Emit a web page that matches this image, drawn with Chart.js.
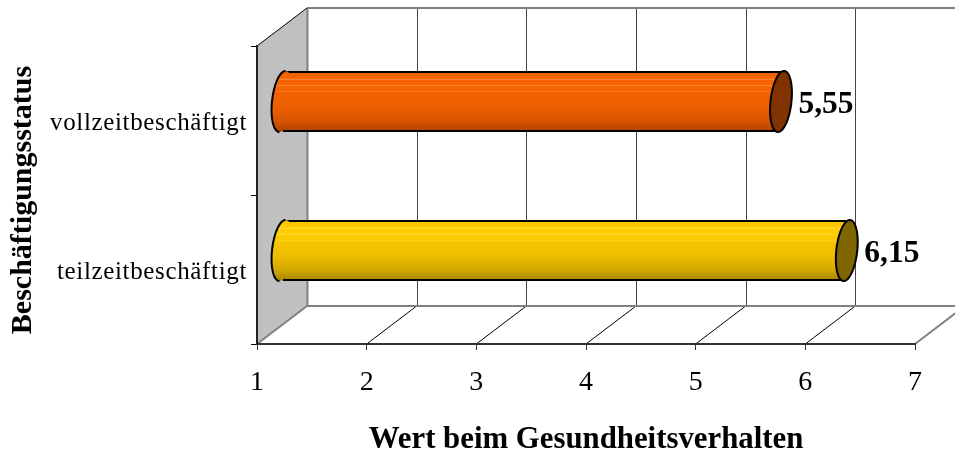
<!DOCTYPE html>
<html>
<head>
<meta charset="utf-8">
<script src="https://cdn.jsdelivr.net/npm/chart.js@4"></script>
<style>
html,body{margin:0;padding:0;background:#fff;overflow:hidden}
#wrap{width:955px;height:452px;position:relative}
</style>
</head>
<body>
<div id="wrap"><canvas id="c" width="955" height="452"></canvas></div>
<script>
// Employment status against health-behaviour score, drawn as 3D-style cylinders.
const categories = ['vollzeitbeschäftigt', 'teilzeitbeschäftigt'];
const scores = [5.55, 6.15];
const xTicks = [1, 2, 3, 4, 5, 6, 7];
const yTitle = 'Beschäftigungsstatus';
const xTitle = 'Wert beim Gesundheitsverhalten';

const bodyStops = [
  [[0, '#ea5e00'], [0.12, '#f56400'], [0.135, '#ff8c3c'], [0.15, '#f56400'], [0.225, '#f66400'], [0.24, '#ff8636'], [0.255, '#f56400'], [0.325, '#f56400'], [0.34, '#fa7a20'], [0.355, '#f26200'], [0.6, '#ec5e00'], [0.82, '#d85400'], [1, '#ac4200']],
  [[0, '#f5c200'], [0.12, '#ffcc00'], [0.135, '#ffdc50'], [0.15, '#ffcc00'], [0.225, '#ffcc00'], [0.24, '#ffd840'], [0.255, '#fdca00'], [0.325, '#fac800'], [0.34, '#fdd020'], [0.355, '#f8c600'], [0.6, '#ecbc00'], [0.82, '#d2a800'], [1, '#a68400']]
];
const capColors = ['#803300', '#806600'];

// Depth of the 3D box: the back wall sits this far right and up from the axes.
const DEPTH_X = 50, DEPTH_Y = 38;
const BAR_FRACTION = 0.41;
const SERIF = '"Liberation Serif", "Times New Roman", serif';

function gradientFor(chart, index) {
  const y = chart.scales.y;
  const half = y.height / categories.length * BAR_FRACTION / 2;
  const mid = y.getPixelForValue(index);
  if (!Number.isFinite(half) || !Number.isFinite(mid)) return capColors[index];
  const g = chart.ctx.createLinearGradient(0, mid - half, 0, mid + half);
  bodyStops[index].forEach(s => g.addColorStop(s[0], s[1]));
  return g;
}

// Cap outline: a sheared oval whose top leans towards the value end.
function capPath(ctx, cx, cy, h, start, end) {
  const steps = 48, a = h * 0.172, b = h * 0.5, shear = 0.1;
  ctx.beginPath();
  for (let n = 0; n <= steps; n++) {
    const t = start + (end - start) * n / steps;
    const px = a * Math.cos(t);
    const py = b * Math.sin(t);
    ctx.lineTo(cx + px - shear * py, cy + py);
  }
}

const box3d = {
  id: 'box3d',
  beforeDatasetsDraw(chart) {
    const { ctx, scales: { x, y } } = chart;
    const l = x.left, r = x.right, t = y.top, b = y.bottom;
    ctx.save();
    // Left wall
    ctx.fillStyle = '#c0c0c0';
    ctx.beginPath();
    ctx.moveTo(l, t); ctx.lineTo(l + DEPTH_X, t - DEPTH_Y);
    ctx.lineTo(l + DEPTH_X, b - DEPTH_Y); ctx.lineTo(l, b);
    ctx.closePath(); ctx.fill();
    // Back-wall gridlines and floor diagonals
    xTicks.forEach(v => {
      const px = x.getPixelForValue(v);
      const edge = v === xTicks[0] || v === xTicks[xTicks.length - 1];
      ctx.lineWidth = edge ? 2 : 1;
      ctx.strokeStyle = edge ? '#808080' : '#000';
      ctx.beginPath();
      ctx.moveTo(px, b); ctx.lineTo(px + DEPTH_X, b - DEPTH_Y);
      ctx.stroke();
      if (v !== xTicks[xTicks.length - 1]) {
        ctx.strokeStyle = v === xTicks[0] ? '#808080' : '#444';
        ctx.lineWidth = v === xTicks[0] ? 2 : 1;
        ctx.beginPath();
        ctx.moveTo(Math.round(px + DEPTH_X) + 0.5, t - DEPTH_Y);
        ctx.lineTo(Math.round(px + DEPTH_X) + 0.5, b - DEPTH_Y);
        ctx.stroke();
      }
    });
    // Top and floor edges of the back wall
    ctx.strokeStyle = '#808080';
    ctx.lineWidth = 2;
    [t - DEPTH_Y, b - DEPTH_Y].forEach(py => {
      ctx.beginPath();
      ctx.moveTo(l + DEPTH_X, py); ctx.lineTo(r + DEPTH_X, py);
      ctx.stroke();
    });
    // Top edge of the left wall
    ctx.strokeStyle = '#000';
    ctx.lineWidth = 1;
    ctx.beginPath();
    ctx.moveTo(l, t); ctx.lineTo(l + DEPTH_X, t - DEPTH_Y);
    ctx.stroke();
    ctx.restore();
  },
  beforeDatasetDraw(chart) {
    chart.ctx.save();
    chart.ctx.translate(DEPTH_X / 2, -DEPTH_Y / 2);
  },
  afterDatasetDraw(chart, args) {
    const ctx = chart.ctx;
    args.meta.data.forEach((el, i) => {
      const h = el.height;
      // Rounded start of the cylinder
      ctx.fillStyle = gradientFor(chart, i);
      capPath(ctx, el.base, el.y, h, 0, Math.PI * 2);
      ctx.fill();
      ctx.strokeStyle = '#000';
      ctx.lineWidth = 2;
      capPath(ctx, el.base, el.y, h, Math.PI / 2, Math.PI * 1.5);
      ctx.stroke();
      // Exposed end of the cylinder
      ctx.fillStyle = capColors[i];
      capPath(ctx, el.x, el.y, h, 0, Math.PI * 2);
      ctx.closePath();
      ctx.fill();
      ctx.stroke();
      // Value label
      ctx.fillStyle = '#000';
      ctx.font = 'bold 31.5px ' + SERIF;
      ctx.textAlign = 'left';
      ctx.textBaseline = 'middle';
      ctx.fillText(scores[i].toFixed(2).replace('.', ','), el.x + 17.5, el.y + 3.5);
    });
    ctx.restore();
  },
  // Category labels and the vertical title sit a few pixels below the scale's own centre lines.
  afterDraw(chart) {
    const { ctx, scales: { y } } = chart;
    ctx.save();
    ctx.fillStyle = '#000';
    ctx.textBaseline = 'middle';
    ctx.textAlign = 'right';
    ctx.font = '25px ' + SERIF;
    ctx.letterSpacing = '0.65px';
    categories.forEach((label, i) => {
      ctx.fillText(label, y.right - 10, y.getPixelForValue(i) + 3);
    });
    ctx.letterSpacing = '0px';
    ctx.translate(23, (y.top + y.bottom) / 2 + 5);
    ctx.rotate(-Math.PI / 2);
    ctx.textAlign = 'center';
    ctx.font = 'bold 30px ' + SERIF;
    ctx.fillText(yTitle, 0, 0);
    ctx.restore();
  }
};

new Chart(document.getElementById('c'), {
  type: 'bar',
  plugins: [box3d],
  data: {
    labels: categories,
    datasets: [{
      data: scores,
      base: xTicks[0],
      clip: false,
      backgroundColor: c => gradientFor(c.chart, c.dataIndex),
      borderColor: '#000',
      borderWidth: { top: 2, bottom: 2, left: 0, right: 0 },
      borderSkipped: false,
      barPercentage: BAR_FRACTION,
      categoryPercentage: 1
    }]
  },
  options: {
    indexAxis: 'y',
    responsive: false,
    animation: false,
    devicePixelRatio: 1,
    layout: { padding: { top: 46, right: 40, left: 0, bottom: 0 } },
    plugins: { legend: { display: false }, tooltip: { enabled: false } },
    scales: {
      x: {
        type: 'linear',
        min: xTicks[0],
        max: xTicks[xTicks.length - 1],
        afterBuildTicks: s => { s.ticks = xTicks.map(v => ({ value: v })); },
        afterFit: s => { s.height = 108; },
        grid: { drawOnChartArea: false, drawTicks: true, tickLength: 6, color: '#333', z: 1 },
        border: { display: true, color: '#333', width: 2, z: 1 },
        ticks: { color: '#000', font: { family: SERIF, size: 28 }, padding: 16, maxRotation: 0, autoSkip: false },
        title: { display: true, text: xTitle, color: '#000', font: { family: SERIF, size: 30.8, weight: 'bold' }, padding: { top: 0, bottom: -7 } }
      },
      y: {
        type: 'category',
        offset: true,
        afterFit: s => { s.width = 257; },
        grid: { drawOnChartArea: false, drawTicks: true, tickLength: 6, color: '#000', offset: true, z: 1 },
        border: { display: true, color: '#222', width: 2, z: 1 },
        ticks: { display: false },
        title: { display: false }
      }
    }
  }
});
</script>
</body>
</html>
